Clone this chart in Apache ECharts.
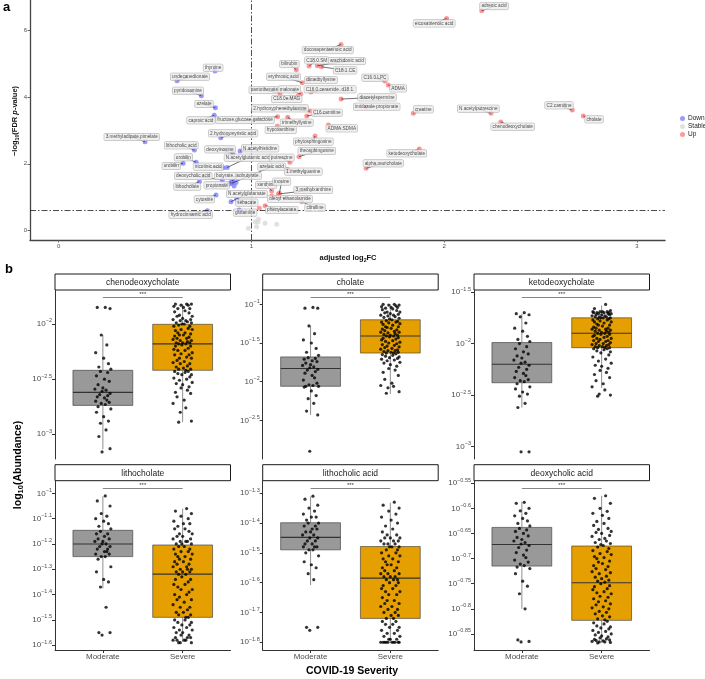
<!DOCTYPE html>
<html><head><meta charset="utf-8">
<script src="https://cdn.jsdelivr.net/npm/echarts@6/dist/echarts.min.js"></script>
<style>html,body{margin:0;padding:0;background:#fff}#c{width:705px;height:679px}</style>
</head><body><div id="c"></div>
<script>
// ---------------- Panel a: volcano data ----------------
// [name, log2FC, -log10(FDR), labelX, labelY]
const downPoints = [
  ['thymine',0.811,4.774,0.801,4.873],
  ['undecanedionate',0.614,4.484,0.681,4.604],
  ['pyridoxamine',0.740,4.036,0.671,4.185],
  ['azelate',0.813,3.677,0.754,3.788],
  ['caproic acid',0.807,3.450,0.738,3.300],
  ['2.hydroxymyristic acid',0.841,2.780,0.905,2.912],
  ['3.methyladipate.pimelate',0.448,2.661,0.379,2.801],
  ['lithocholic acid',0.704,2.413,0.636,2.553],
  ['deoxyinosine',0.903,2.314,0.837,2.433],
  ['N.acetylhistidine',0.941,2.383,1.045,2.463],
  ['urobilin',0.713,2.045,0.647,2.194],
  ['urobilin',0.645,2.015,0.584,1.934],
  ['nicotinic acid',0.854,1.883,0.776,1.913],
  ['N.acetylglutamic acid',0.874,1.889,0.982,2.182],
  ['deoxycholic acid',0.849,1.516,0.698,1.635],
  ['butyrate..isobutyrate.',0.899,1.486,0.930,1.635],
  ['lithocholate',0.730,1.465,0.667,1.315],
  ['propionate',0.893,1.435,0.820,1.357],
  ['azelaic acid',0.898,1.417,1.105,1.913],
  ['N.acetylglutamate',0.894,0.867,0.976,1.097],
  ['sebacate',0.924,0.939,0.976,0.837],
  ['cytosine',0.816,1.067,0.756,0.939],
  ['hydrocinnamic acid',0.771,0.598,0.685,0.469],
  ['glutamine',0.936,0.619,0.967,0.538]
];
const upPoints = [
  ['fructose.glucose.galactose',1.136,3.408,0.967,3.309],
  ['hypoxanthine',1.134,3.130,1.152,3.010],
  ['trimethyllysine',1.188,3.390,1.235,3.229],
  ['2.hydroxyphenethylamine',1.304,3.578,1.148,3.659],
  ['C16.carnitine',1.287,3.429,1.391,3.527],
  ['pantothenate',1.148,4.108,1.067,4.206],
  ['malonate',1.256,4.087,1.197,4.227],
  ['C16.0.ceramide..d18.1.',1.309,4.147,1.408,4.227],
  ['C18.0e.MAG',1.243,4.036,1.183,3.937],
  ['erythronic acid',1.264,4.424,1.166,4.604],
  ['dimethyllysine',1.294,4.505,1.361,4.505],
  ['bilirubin',1.233,4.813,1.197,4.983],
  ['C18.0.SM',1.299,4.924,1.339,5.094],
  ['arachidonic acid',1.342,4.933,1.495,5.073],
  ['C18.1.CE',1.363,4.903,1.486,4.795],
  ['docosapentaenoic acid',1.465,5.572,1.396,5.402],
  ['C16.0.LPC',1.692,4.475,1.641,4.574],
  ['ADMA',1.710,4.356,1.761,4.257],
  ['diacetylspermine',1.465,3.937,1.652,3.988],
  ['imidazole propionate',1.595,3.698,1.650,3.707],
  ['ADMA.SDMA',1.399,3.160,1.469,3.061],
  ['phytosphingosine',1.330,2.831,1.321,2.661],
  ['theosphingosine',1.247,2.212,1.339,2.383],
  ['putrescine',1.200,2.045,1.157,2.182],
  ['1.methylguanine',1.186,1.836,1.269,1.764],
  ['alpha.muricholate',1.595,1.865,1.684,2.015],
  ['ketodeoxycholate',1.871,2.442,1.806,2.314],
  ['xanthine',1.105,1.187,1.076,1.366],
  ['inosine',1.145,1.118,1.157,1.465],
  ['3.methylxanthine',1.140,1.097,1.321,1.217],
  ['oleoyl ethanolamide',1.105,1.037,1.200,0.948],
  ['citrulline',1.261,0.867,1.330,0.688],
  ['phenylacetate',1.071,0.747,1.157,0.619],
  ['creatine',1.840,3.510,1.892,3.629],
  ['N.acetylputrescine',2.243,3.510,2.177,3.647],
  ['C2.carnitine',2.665,3.608,2.596,3.749],
  ['cholate',2.722,3.429,2.778,3.330],
  ['chenodeoxycholate',2.294,3.250,2.356,3.109],
  ['adrenic acid',2.195,6.577,2.259,6.717],
  ['eicosatrienoic acid',2.013,6.350,1.948,6.200]
];
const downUnlabeled = [[0.884,1.396],[0.910,1.336],[0.920,1.441],[0.905,1.470]];
const upUnlabeled = [[1.041,0.670]];
const stablePoints = [[1.036,0.350],[1.034,0.260],[1.027,0.120],[0.984,0.072],[1.131,0.191],[1.071,0.221],[1.019,0.269]];
const volcanoXTicks = [0,1,2,3];
const volcanoYTicks = [0,2,4,6];
const fcCutoff = 1;
const fdrCutoff = 0.602;

// ---------------- Panel b: box plot data (log10 abundance) ----------------
const facetNames = ['chenodeoxycholate','cholate','ketodeoxycholate','lithocholate','lithocholic acid','deoxycholic acid'];
const groups = ['Moderate','Severe'];
const facetTicks = [
  [-2,-2.5,-3],[-1,-1.5,-2,-2.5],[-1.5,-2,-2.5,-3],
  [-1,-1.1,-1.2,-1.3,-1.4,-1.5,-1.6],[-1.3,-1.4,-1.5,-1.6,-1.7,-1.8],[-0.55,-0.6,-0.65,-0.7,-0.75,-0.8,-0.85]
];
const facetYRange = [[-3.224,-1.692],[-3.0,-0.815],[-3.12,-1.48],[-1.619,-0.95],[-1.826,-1.258],[-0.882,-0.545]];
// [lower whisker, Q1, median, Q3, upper whisker]
const boxModerate = [
  [-3.136,-2.738,-2.62,-2.42,-2.10],[-2.43,-2.06,-1.83,-1.68,-1.28],[-2.62,-2.38,-2.20,-1.99,-1.71],
  [-1.375,-1.25,-1.20,-1.146,-1.011],[-1.608,-1.49,-1.448,-1.399,-1.311],[-0.80,-0.715,-0.672,-0.638,-0.587]
];
const boxSevere = [
  [-2.89,-2.42,-2.18,-2.003,-1.82],[-2.16,-1.63,-1.41,-1.20,-1.0],[-2.43,-2.04,-1.90,-1.75,-1.63],
  [-1.587,-1.49,-1.319,-1.204,-1.06],[-1.798,-1.72,-1.585,-1.479,-1.332],[-0.868,-0.823,-0.748,-0.675,-0.575]
];
const sigBarY = [-1.76,-0.915,-1.555,-0.98,-1.284,-0.56];
const sigLabel = '***';

const modY = [
 [-1.85,-1.85,-1.86,-2.10,-2.19,-2.26,-2.31,-2.36,-2.39,-2.41,-2.43,-2.44,-2.47,-2.50,-2.52,-2.55,-2.58,-2.59,-2.60,-2.61,
  -2.63,-2.64,-2.65,-2.66,-2.67,-2.69,-2.70,-2.71,-2.72,-2.73,-2.75,-2.77,-2.80,-2.84,-2.88,-2.90,-2.96,-3.02,-3.13,-3.16],
 [-1.04,-1.05,-1.05,-1.28,-1.38,-1.46,-1.50,-1.57,-1.62,-1.66,-1.69,-1.70,-1.71,-1.73,-1.74,-1.76,-1.78,-1.79,-1.81,-1.82,
  -1.84,-1.85,-1.87,-1.89,-1.92,-1.95,-1.98,-2.02,-2.04,-2.05,-2.06,-2.06,-2.07,-2.12,-2.18,-2.22,-2.28,-2.38,-2.43,-2.90],
 [-1.70,-1.71,-1.72,-1.74,-1.80,-1.85,-1.88,-1.93,-1.96,-1.98,-2.00,-2.03,-2.05,-2.08,-2.10,-2.12,-2.14,-2.16,-2.18,-2.19,
  -2.21,-2.23,-2.25,-2.27,-2.29,-2.31,-2.33,-2.35,-2.36,-2.37,-2.39,-2.42,-2.44,-2.47,-2.49,-2.51,-2.58,-2.62,-3.05,-3.05],
 [-1.01,-1.03,-1.05,-1.08,-1.09,-1.10,-1.11,-1.12,-1.13,-1.14,-1.15,-1.16,-1.16,-1.17,-1.18,-1.18,-1.19,-1.19,-1.20,-1.20,
  -1.21,-1.21,-1.22,-1.22,-1.23,-1.23,-1.24,-1.24,-1.25,-1.25,-1.26,-1.29,-1.31,-1.34,-1.35,-1.37,-1.45,-1.55,-1.55,-1.56],
 [-1.31,-1.32,-1.34,-1.35,-1.36,-1.37,-1.38,-1.38,-1.39,-1.40,-1.40,-1.41,-1.41,-1.42,-1.42,-1.43,-1.43,-1.44,-1.44,-1.45,
  -1.45,-1.46,-1.46,-1.47,-1.47,-1.48,-1.48,-1.48,-1.49,-1.49,-1.50,-1.51,-1.53,-1.54,-1.55,-1.57,-1.59,-1.75,-1.75,-1.76],
 [-0.588,-0.59,-0.60,-0.605,-0.61,-0.615,-0.62,-0.625,-0.63,-0.635,-0.64,-0.643,-0.646,-0.65,-0.655,-0.658,-0.662,-0.665,-0.668,-0.671,
  -0.674,-0.678,-0.683,-0.688,-0.693,-0.698,-0.703,-0.707,-0.711,-0.714,-0.717,-0.72,-0.73,-0.745,-0.755,-0.77,-0.80,-0.862,-0.865,-0.866]
];
const sevY = [
 [-1.82,-1.82,-1.82,-1.83,-1.83,-1.84,-1.85,-1.86,-1.86,-1.88,-1.89,-1.90,-1.92,-1.93,-1.93,-1.95,-1.96,-1.96,-1.97,-1.97,-1.98,-1.99,-1.99,-2.00,-2.00,
  -2.01,-2.02,-2.02,-2.04,-2.05,-2.05,-2.06,-2.08,-2.08,-2.09,-2.10,-2.10,-2.11,-2.12,-2.13,-2.13,-2.14,-2.15,-2.15,-2.16,-2.17,-2.17,-2.17,-2.18,-2.18,
  -2.19,-2.20,-2.20,-2.22,-2.23,-2.24,-2.24,-2.26,-2.27,-2.28,-2.28,-2.30,-2.31,-2.31,-2.33,-2.34,-2.35,-2.36,-2.36,-2.38,-2.39,-2.40,-2.41,-2.41,-2.42,
  -2.43,-2.43,-2.44,-2.45,-2.46,-2.46,-2.48,-2.49,-2.50,-2.51,-2.53,-2.54,-2.55,-2.57,-2.58,-2.60,-2.62,-2.63,-2.66,-2.69,-2.72,-2.76,-2.80,-2.88,-2.89],
 [-1.00,-1.00,-1.01,-1.01,-1.02,-1.03,-1.04,-1.04,-1.05,-1.06,-1.07,-1.08,-1.10,-1.10,-1.11,-1.12,-1.13,-1.14,-1.14,-1.15,-1.16,-1.17,-1.18,-1.19,-1.20,
  -1.21,-1.22,-1.23,-1.23,-1.24,-1.25,-1.26,-1.27,-1.29,-1.29,-1.30,-1.31,-1.32,-1.33,-1.34,-1.35,-1.36,-1.36,-1.37,-1.38,-1.39,-1.40,-1.40,-1.41,-1.41,
  -1.42,-1.43,-1.44,-1.45,-1.46,-1.47,-1.48,-1.49,-1.50,-1.51,-1.52,-1.53,-1.54,-1.55,-1.56,-1.57,-1.58,-1.59,-1.60,-1.60,-1.61,-1.62,-1.62,-1.63,-1.63,
  -1.64,-1.65,-1.66,-1.67,-1.68,-1.69,-1.70,-1.71,-1.72,-1.73,-1.75,-1.76,-1.78,-1.80,-1.83,-1.85,-1.88,-1.92,-1.97,-2.02,-2.05,-2.06,-2.08,-2.13,-2.15],
 [-1.62,-1.66,-1.68,-1.69,-1.69,-1.69,-1.69,-1.70,-1.70,-1.70,-1.70,-1.71,-1.71,-1.71,-1.72,-1.72,-1.72,-1.73,-1.73,-1.74,-1.74,-1.74,-1.75,-1.75,-1.75,
  -1.76,-1.76,-1.77,-1.77,-1.78,-1.79,-1.79,-1.80,-1.81,-1.82,-1.82,-1.83,-1.84,-1.85,-1.85,-1.86,-1.86,-1.87,-1.87,-1.88,-1.88,-1.89,-1.89,-1.90,-1.90,
  -1.91,-1.91,-1.92,-1.93,-1.93,-1.94,-1.95,-1.95,-1.96,-1.97,-1.97,-1.98,-1.98,-1.99,-2.00,-2.00,-2.01,-2.01,-2.02,-2.02,-2.03,-2.03,-2.04,-2.04,-2.04,
  -2.05,-2.05,-2.06,-2.07,-2.08,-2.09,-2.11,-2.13,-2.15,-2.17,-2.19,-2.21,-2.22,-2.24,-2.26,-2.28,-2.30,-2.33,-2.36,-2.39,-2.42,-2.45,-2.49,-2.50,-2.51],
 [-1.06,-1.07,-1.08,-1.09,-1.10,-1.11,-1.12,-1.12,-1.13,-1.14,-1.14,-1.15,-1.16,-1.16,-1.17,-1.17,-1.18,-1.18,-1.19,-1.19,-1.19,-1.20,-1.20,-1.20,-1.21,
  -1.21,-1.22,-1.22,-1.23,-1.23,-1.24,-1.24,-1.25,-1.25,-1.26,-1.26,-1.27,-1.27,-1.28,-1.28,-1.29,-1.29,-1.30,-1.30,-1.30,-1.31,-1.31,-1.31,-1.32,-1.32,
  -1.33,-1.34,-1.34,-1.35,-1.36,-1.36,-1.37,-1.38,-1.38,-1.39,-1.40,-1.40,-1.41,-1.42,-1.42,-1.43,-1.44,-1.45,-1.45,-1.46,-1.47,-1.47,-1.48,-1.48,-1.49,
  -1.49,-1.50,-1.50,-1.51,-1.51,-1.52,-1.52,-1.53,-1.53,-1.54,-1.54,-1.55,-1.55,-1.56,-1.56,-1.57,-1.57,-1.57,-1.58,-1.58,-1.58,-1.58,-1.59,-1.59,-1.59],
 [-1.33,-1.34,-1.35,-1.36,-1.37,-1.38,-1.39,-1.40,-1.41,-1.42,-1.43,-1.44,-1.44,-1.45,-1.45,-1.45,-1.46,-1.46,-1.46,-1.47,-1.47,-1.47,-1.48,-1.48,-1.48,
  -1.49,-1.49,-1.50,-1.50,-1.51,-1.51,-1.52,-1.52,-1.53,-1.53,-1.54,-1.54,-1.55,-1.55,-1.56,-1.56,-1.57,-1.57,-1.57,-1.58,-1.58,-1.58,-1.59,-1.59,-1.59,
  -1.60,-1.60,-1.61,-1.61,-1.62,-1.62,-1.63,-1.63,-1.64,-1.64,-1.65,-1.66,-1.66,-1.67,-1.67,-1.68,-1.68,-1.69,-1.69,-1.70,-1.70,-1.71,-1.71,-1.72,-1.72,
  -1.73,-1.73,-1.74,-1.74,-1.75,-1.75,-1.76,-1.76,-1.77,-1.77,-1.78,-1.78,-1.79,-1.79,-1.79,-1.80,-1.80,-1.80,-1.80,-1.80,-1.80,-1.80,-1.80,-1.80,-1.80],
 [-0.575,-0.58,-0.59,-0.60,-0.606,-0.61,-0.614,-0.62,-0.626,-0.63,-0.634,-0.64,-0.642,-0.646,-0.648,-0.65,-0.654,-0.656,-0.66,-0.662,-0.665,-0.668,-0.67,-0.672,-0.674,
  -0.677,-0.68,-0.684,-0.686,-0.69,-0.692,-0.696,-0.698,-0.70,-0.705,-0.707,-0.71,-0.714,-0.716,-0.72,-0.722,-0.726,-0.728,-0.73,-0.735,-0.737,-0.74,-0.743,-0.745,-0.747,
  -0.75,-0.754,-0.756,-0.76,-0.762,-0.766,-0.768,-0.77,-0.775,-0.777,-0.78,-0.784,-0.786,-0.79,-0.792,-0.796,-0.798,-0.80,-0.805,-0.807,-0.81,-0.814,-0.816,-0.82,-0.822,
  -0.825,-0.828,-0.83,-0.834,-0.836,-0.838,-0.84,-0.843,-0.845,-0.847,-0.85,-0.852,-0.854,-0.856,-0.858,-0.86,-0.861,-0.862,-0.863,-0.864,-0.865,-0.866,-0.866,-0.867,-0.868]
];
const jitterModerate = [0.03,-0.07,0.09,-0.02,0.05,-0.09,0.01,0.07,-0.05,0.10,-0.03,0.06,-0.08,0.02,0.08,-0.06,0.00,-0.10,0.04,-0.01,
  0.09,-0.04,0.06,-0.07,0.02,0.05,-0.09,0.08,-0.02,0.03,-0.06,0.10,-0.08,0.01,0.07,-0.03,0.04,-0.05,0.09,-0.01];
const jitterSevere = [0.05,-0.09,0.11,-0.02,0.07,-0.11,0.01,0.09,-0.06,0.03,-0.10,0.08,-0.04,0.12,-0.07,0.00,0.10,-0.12,0.04,-0.03,0.06,-0.08,0.11,-0.01,0.02,
  -0.05,0.09,-0.11,0.07,-0.02,0.12,-0.09,0.03,-0.06,0.10,-0.04,0.01,-0.10,0.08,-0.07,0.05,-0.12,0.11,-0.03,0.06,-0.08,0.00,0.09,-0.05,0.04,
  -0.01,0.10,-0.09,0.07,-0.11,0.03,-0.06,0.12,-0.02,0.08,-0.10,0.05,-0.04,0.11,-0.07,0.02,-0.12,0.09,-0.03,0.06,-0.08,0.01,0.10,-0.05,0.04,
  0.07,-0.10,0.03,-0.06,0.11,-0.01,0.09,-0.11,0.05,-0.04,0.12,-0.08,0.00,0.08,-0.02,0.06,-0.09,0.10,-0.07,0.02,-0.12,0.04,-0.03,0.11,-0.05];

// ---------------- Build chart ----------------
const FONT = 'Liberation Sans';
const chart = echarts.init(document.getElementById('c'), null, {width:705, height:679});
const AX = '#333333', TXT = '#4d4d4d';

const grids = [{left:30, top:0, width:635, height:240}];
const xAxes = [{gridIndex:0, type:'value', min:-0.149, max:3.146,
  axisLine:{onZero:false, lineStyle:{color:'#444', width:1.3}}, splitLine:{show:false},
  axisTick:{customValues:volcanoXTicks, length:2.5, lineStyle:{color:'#666'}},
  axisLabel:{customValues:volcanoXTicks, fontSize:6, color:TXT, margin:3}}];
const yAxes = [{gridIndex:0, type:'value', min:-0.28, max:6.9,
  axisLine:{show:true, onZero:false, lineStyle:{color:'#444', width:1.3}}, splitLine:{show:false},
  axisTick:{show:true, customValues:volcanoYTicks, length:2.5, lineStyle:{color:'#666'}},
  axisLabel:{customValues:volcanoYTicks, fontSize:6, color:TXT, margin:3}}];

const facetLeft = [55, 262.7, 474], rowTop = [290, 480.7], rowH = [169, 169.3], panelW = 175.5;
const stripH = 16;
const graphics = [];

function supLabel(v){
  const s = String(Math.round(v*100)/100).replace('-', '\u2212');
  return '{b|10}{s|' + s + '}';
}

facetNames.forEach((nm, k) => {
  const r = k < 3 ? 0 : 1, c = k % 3;
  grids.push({left:facetLeft[c], top:rowTop[r], width:panelW, height:rowH[r]});
  const gi = k + 1;
  xAxes.push({gridIndex:gi, type:'value', min:0.4, max:2.6, show: r === 1,
    axisLine:{show:true, onZero:false, lineStyle:{color:AX, width:1}}, splitLine:{show:false},
    axisTick:{customValues:[1,2], length:3, lineStyle:{color:AX}},
    axisLabel:{customValues:[1,2], formatter: v => groups[Math.round(v)-1], fontSize:8, color:TXT, margin:3}});
  yAxes.push({gridIndex:gi, type:'value', min:facetYRange[k][0], max:facetYRange[k][1],
    axisLine:{show:true, onZero:false, lineStyle:{color:AX, width:1}}, splitLine:{show:false},
    axisTick:{show:true, customValues:facetTicks[k], length:3, lineStyle:{color:AX}},
    axisLabel:{customValues:facetTicks[k], formatter:supLabel, margin:3, padding:[0,0,2,0],
      rich:{b:{fontSize:8, color:TXT, lineHeight:10, verticalAlign:'bottom', fontFamily:FONT},
            s:{fontSize:5.5, color:TXT, lineHeight:10, verticalAlign:'top', fontFamily:FONT}}}});
  const sx = facetLeft[c], sy = rowTop[r] - stripH;
  graphics.push({type:'rect', shape:{x:sx, y:sy, width:panelW, height:stripH}, style:{fill:'#fff', stroke:'#1a1a1a', lineWidth:1}, silent:true});
  graphics.push({type:'text', x:sx + panelW/2, y:sy + stripH/2 + 0.5, silent:true,
    style:{text:nm, fontSize:8.5, fontFamily:FONT, fill:'#1a1a1a', align:'center', verticalAlign:'middle'}});
});

const series = [];
series.push({name:'Stable', type:'scatter', xAxisIndex:0, yAxisIndex:0, data:stablePoints, symbolSize:5,
  itemStyle:{color:'#DADADA'}, z:2, silent:true,
  markLine:{silent:true, symbol:'none', animation:false, label:{show:false},
    lineStyle:{color:'#222', width:0.8, type:[6,2,1.5,2]}, data:[{xAxis:fcCutoff},{yAxis:fdrCutoff}]}});
series.push({name:'Down', type:'scatter', xAxisIndex:0, yAxisIndex:0,
  data:downPoints.map(d => [d[1], d[2]]).concat(downUnlabeled), symbolSize:5, itemStyle:{color:'#8080FF'}, z:2, silent:true});
series.push({name:'Up', type:'scatter', xAxisIndex:0, yAxisIndex:0,
  data:upPoints.map(d => [d[1], d[2]]).concat(upUnlabeled), symbolSize:5, itemStyle:{color:'#FF8080'}, z:2, silent:true});
const allLabeled = downPoints.concat(upPoints);
series.push({type:'lines', coordinateSystem:'cartesian2d', xAxisIndex:0, yAxisIndex:0, silent:true, z:3,
  data:allLabeled.map(d => ({coords:[[d[1], d[2]], [d[3], d[4]]]})),
  lineStyle:{color:'#111', width:0.6, opacity:1}});
series.push({name:'labels', type:'scatter', xAxisIndex:0, yAxisIndex:0, silent:true, z:10,
  data:allLabeled.map(d => [d[3], d[4], d[0]]), symbolSize:0.01, itemStyle:{color:'rgba(0,0,0,0)'},
  label:{show:true, position:'inside', formatter:p => p.data[2], fontSize:4.7, fontFamily:FONT, color:'#222',
    backgroundColor:'#ececec', borderColor:'#a0a0a0', borderWidth:0.5, borderRadius:1, padding:[1.2,1.5,0.8,1.5]}});

function renderBox(params, api){
  const x = api.value(0);
  const low = api.coord([x, api.value(1)]), q1 = api.coord([x, api.value(2)]),
        med = api.coord([x, api.value(3)]), q3 = api.coord([x, api.value(4)]), high = api.coord([x, api.value(5)]);
  const w = api.size([0.75, 0])[0];
  const fill = x === 1 ? '#999999' : '#E69F00';
  return {type:'group', children:[
    {type:'line', shape:{x1:low[0], y1:low[1], x2:q1[0], y2:q1[1]}, style:{stroke:'#444', lineWidth:0.6}},
    {type:'line', shape:{x1:q3[0], y1:q3[1], x2:high[0], y2:high[1]}, style:{stroke:'#444', lineWidth:0.6}},
    {type:'rect', shape:{x:q3[0]-w/2, y:q3[1], width:w, height:q1[1]-q3[1]}, style:{fill:fill, stroke:'#333', lineWidth:0.6}},
    {type:'line', shape:{x1:med[0]-w/2, y1:med[1], x2:med[0]+w/2, y2:med[1]}, style:{stroke:'#333', lineWidth:1.1}}
  ]};
}

facetNames.forEach((nm, k) => {
  const gi = k + 1;
  series.push({type:'custom', xAxisIndex:gi, yAxisIndex:gi, renderItem:renderBox, silent:true, z:2,
    data:[[1].concat(boxModerate[k]), [2].concat(boxSevere[k])], encode:{x:0, y:[1,2,3,4,5]}});
  const pts = modY[k].map((y, i) => [1 + jitterModerate[i % jitterModerate.length], y])
    .concat(sevY[k].map((y, i) => [2 + jitterSevere[i % jitterSevere.length], y]));
  series.push({type:'scatter', xAxisIndex:gi, yAxisIndex:gi, data:pts, symbolSize:3.2, silent:true, z:3,
    itemStyle:{color:'#000'},
    markLine:{silent:true, symbol:'none', animation:false,
      lineStyle:{color:'#666', width:0.8, type:'solid'},
      label:{show:true, formatter:sigLabel, position:'insideMiddleTop', fontSize:6, color:'#333', distance:0, padding:0},
      data:[[{coord:[1, sigBarY[k]]}, {coord:[2, sigBarY[k]]}]]}});
});

// titles / annotations
graphics.push({type:'text', x:3, y:1, silent:true, style:{text:'a', fontSize:13, fontWeight:'bold', fontFamily:FONT, fill:'#000', align:'left', verticalAlign:'top'}});
graphics.push({type:'text', x:5, y:263, silent:true, style:{text:'b', fontSize:13, fontWeight:'bold', fontFamily:FONT, fill:'#000', align:'left', verticalAlign:'top'}});
graphics.push({type:'text', x:15, y:121, rotation:Math.PI/2, silent:true,
  style:{text:'{n|\u2212log}{s|10}{n|(FDR }{i|p}{n|-value)}', align:'center', verticalAlign:'middle',
    rich:{n:{fontSize:7.5, fontWeight:'bold', fontFamily:FONT, fill:'#111', lineHeight:10, verticalAlign:'middle'},
          s:{fontSize:5.2, fontWeight:'bold', fontFamily:FONT, fill:'#111', lineHeight:10, verticalAlign:'bottom'},
          i:{fontSize:7.5, fontWeight:'bold', fontStyle:'italic', fontFamily:FONT, fill:'#111', lineHeight:10, verticalAlign:'middle'}}}});
graphics.push({type:'text', x:348, y:258, silent:true,
  style:{text:'{n|adjusted log}{s|2}{n|FC}', align:'center', verticalAlign:'middle',
    rich:{n:{fontSize:7.5, fontWeight:'bold', fontFamily:FONT, fill:'#111', lineHeight:10, verticalAlign:'middle'},
          s:{fontSize:5.2, fontWeight:'bold', fontFamily:FONT, fill:'#111', lineHeight:10, verticalAlign:'bottom'}}}});
graphics.push({type:'text', x:18, y:465, rotation:Math.PI/2, silent:true,
  style:{text:'{n|log}{s|10}{n|(Abundance)}', align:'center', verticalAlign:'middle',
    rich:{n:{fontSize:10.5, fontWeight:'bold', fontFamily:FONT, fill:'#000', lineHeight:14, verticalAlign:'middle'},
          s:{fontSize:7.5, fontWeight:'bold', fontFamily:FONT, fill:'#000', lineHeight:14, verticalAlign:'bottom'}}}});
graphics.push({type:'text', x:352, y:671, silent:true,
  style:{text:'COVID-19 Severity', fontSize:10.5, fontWeight:'bold', fontFamily:FONT, fill:'#000', align:'center', verticalAlign:'middle'}});

chart.setOption({
  animation:false,
  backgroundColor:'#fff',
  textStyle:{fontFamily:FONT},
  grid:grids, xAxis:xAxes, yAxis:yAxes, series:series, graphic:graphics,
  legend:{orient:'vertical', left:675, top:110, itemWidth:5, itemHeight:5, itemGap:1, icon:'circle',
    data:['Down','Stable','Up'], selectedMode:false,
    textStyle:{fontSize:6.5, color:'#222', padding:[0,0,0,-2]}}
});
</script>
</body></html>
